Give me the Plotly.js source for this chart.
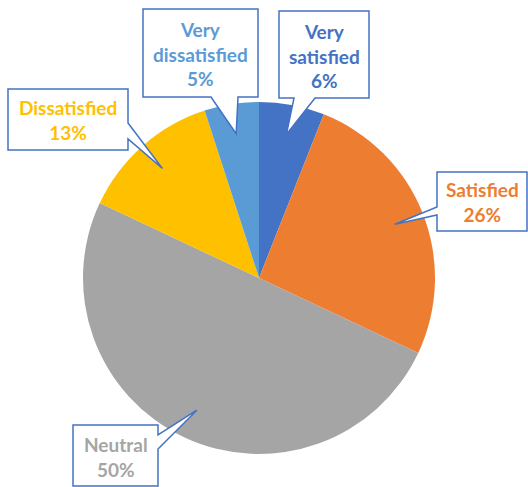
<!DOCTYPE html>
<html>
<head>
<meta charset="utf-8">
<script src="https://cdn.plot.ly/plotly-3.0.1.min.js"></script>
<style>html,body{margin:0;padding:0;background:#fff;}#chart{width:528px;height:487px;}</style>
</head>
<body>
<div id="chart"></div>
<script>
// ---- data ----
const categories = ['Very satisfied', 'Satisfied', 'Neutral', 'Dissatisfied', 'Very dissatisfied'];
const values = [6, 26, 50, 13, 5];
const colors = ['#4472C4', '#ED7D31', '#A5A5A5', '#FFC000', '#5B9BD5'];

// ---- layout geometry (pixels) ----
const W = 528, H = 487;
const CX = 259, CY = 278, R = 176;
// callout boxes: [x0, y0, x1, y1], side the pointer leaves from, pointer base
const boxes = [
  {box: [279, 11, 369, 98],  side: 'bottom', base: [294, 315]},
  {box: [437, 172, 527, 231], side: 'left',  base: [207, 215]},
  {box: [73, 425, 158, 486],  side: 'right', base: [435, 449]},
  {box: [8, 89, 128, 150],    side: 'right', base: [123, 139]},
  {box: [143, 9, 258, 97],    side: 'bottom', base: [211, 238]}
];

const px = x => x / W;
const py = y => 1 - y / H;

const total = values.reduce((a, b) => a + b, 0);
let cum = 0;
const shapes = [];
const annotations = [];
values.forEach((v, i) => {
  const mid = (cum + v / 2) / total * 2 * Math.PI;
  cum += v;
  const tx = CX + 0.83 * R * Math.sin(mid);
  const ty = CY - 0.83 * R * Math.cos(mid);
  const b = boxes[i];
  const [x0, y0, x1, y1] = b.box;
  let pts;
  if (b.side === 'bottom') {
    pts = [[x0, y0], [x1, y0], [x1, y1], [b.base[1], y1], [tx, ty], [b.base[0], y1], [x0, y1]];
  } else if (b.side === 'right') {
    pts = [[x0, y0], [x1, y0], [x1, b.base[0]], [tx, ty], [x1, b.base[1]], [x1, y1], [x0, y1]];
  } else {
    pts = [[x0, y0], [x1, y0], [x1, y1], [x0, y1], [x0, b.base[1]], [tx, ty], [x0, b.base[0]]];
  }
  const path = 'M ' + pts.map(p => px(p[0]).toFixed(5) + ',' + py(p[1]).toFixed(5)).join(' L ') + ' Z';
  shapes.push({
    type: 'path', xref: 'paper', yref: 'paper', path: path,
    fillcolor: '#FFFFFF', line: {color: '#4472C4', width: 1.5}, layer: 'above'
  });
  annotations.push({
    xref: 'paper', yref: 'paper',
    x: px((x0 + x1) / 2), y: py((y0 + y1) / 2 + 1),
    xanchor: 'center', yanchor: 'middle', showarrow: false, align: 'center',
    text: '<b>' + categories[i].replace(' ', '<br>') + '<br>' + v + '%</b>',
    font: {family: 'Lato, "Open Sans", sans-serif', size: 19, color: colors[i]}
  });
});

const trace = {
  type: 'pie',
  labels: categories,
  values: values,
  sort: false,
  direction: 'clockwise',
  rotation: 0,
  textinfo: 'none',
  hoverinfo: 'label+percent',
  marker: {colors: colors, line: {width: 0}},
  domain: {x: [px(CX - R), px(CX + R)], y: [py(CY + R), py(CY - R)]},
  showlegend: false
};

const layout = {
  width: W, height: H,
  margin: {l: 0, r: 0, t: 0, b: 0},
  paper_bgcolor: '#FFFFFF',
  showlegend: false,
  shapes: shapes,
  annotations: annotations
};

Plotly.newPlot('chart', [trace], layout, {displayModeBar: false, staticPlot: true});
</script>
</body>
</html>
